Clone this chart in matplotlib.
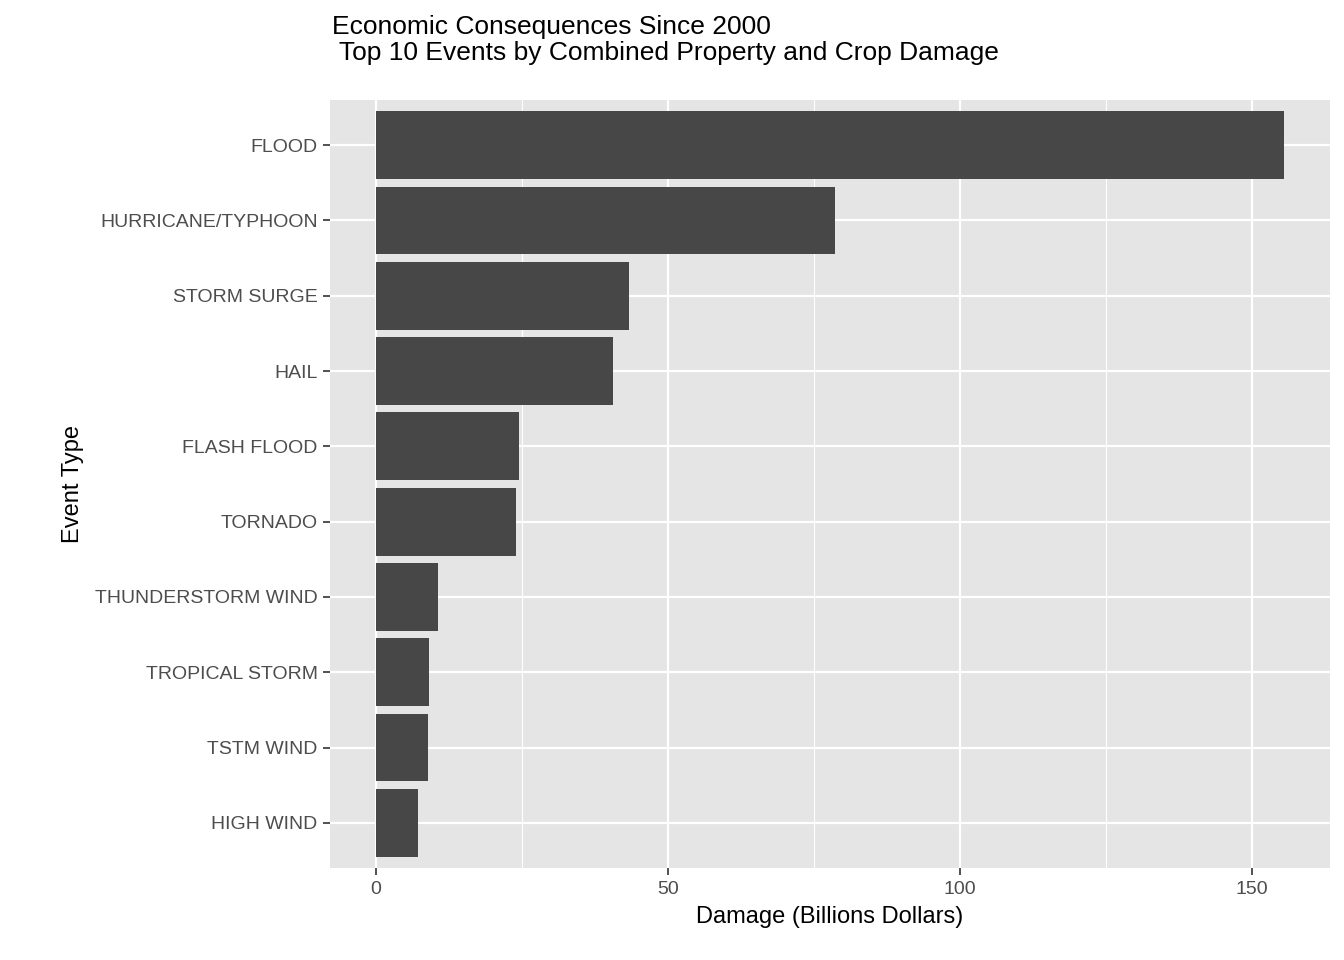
import matplotlib
matplotlib.use('Agg')
import matplotlib.pyplot as plt

plt.rcParams['font.family'] = ['Liberation Sans', 'DejaVu Sans']

events = ['FLOOD', 'HURRICANE/TYPHOON', 'STORM SURGE', 'HAIL', 'FLASH FLOOD',
          'TORNADO', 'THUNDERSTORM WIND', 'TROPICAL STORM', 'TSTM WIND', 'HIGH WIND']
damage = [155.5, 78.6, 43.3, 40.6, 24.5, 24.0, 10.6, 9.1, 8.9, 7.2]

fig = plt.figure(figsize=(13.44, 9.6), dpi=100)
ax = fig.add_axes([330/1344, 1-868/960, 1000/1344, 768/960])
ax.set_facecolor('#E5E5E5')

ypos = list(range(len(events)))[::-1]
ax.barh(ypos, damage, height=0.9, color='#474747', zorder=3)

ax.set_xlim(-7.9, 163.4)
ax.set_ylim(-0.6, len(events) - 0.4)
ax.set_xticks([0, 50, 100, 150])
ax.set_xticks([25, 75, 125], minor=True)
ax.set_yticks(ypos)
ax.set_yticklabels(events)
ax.grid(True, which='major', color='white', linewidth=1.6, zorder=0)
ax.grid(True, which='minor', axis='x', color='white', linewidth=0.8, zorder=0)
for s in ax.spines.values():
    s.set_visible(False)
ax.tick_params(axis='both', which='major', length=5, width=1.2, color='#333333',
               labelsize=14, labelcolor='#4D4D4D', pad=4)
ax.tick_params(axis='x', which='minor', length=0)

ax.set_xlabel('Damage (Billions Dollars)', fontsize=17, labelpad=6)
ax.set_ylabel('Event Type', fontsize=17, labelpad=8)
fig.text(332/1344, 1-40/960,
         'Economic Consequences Since 2000\n Top 10 Events by Combined Property and Crop Damage',
         fontsize=19, ha='left', va='center', linespacing=1.15)

fig.savefig('out.png', dpi=100)
